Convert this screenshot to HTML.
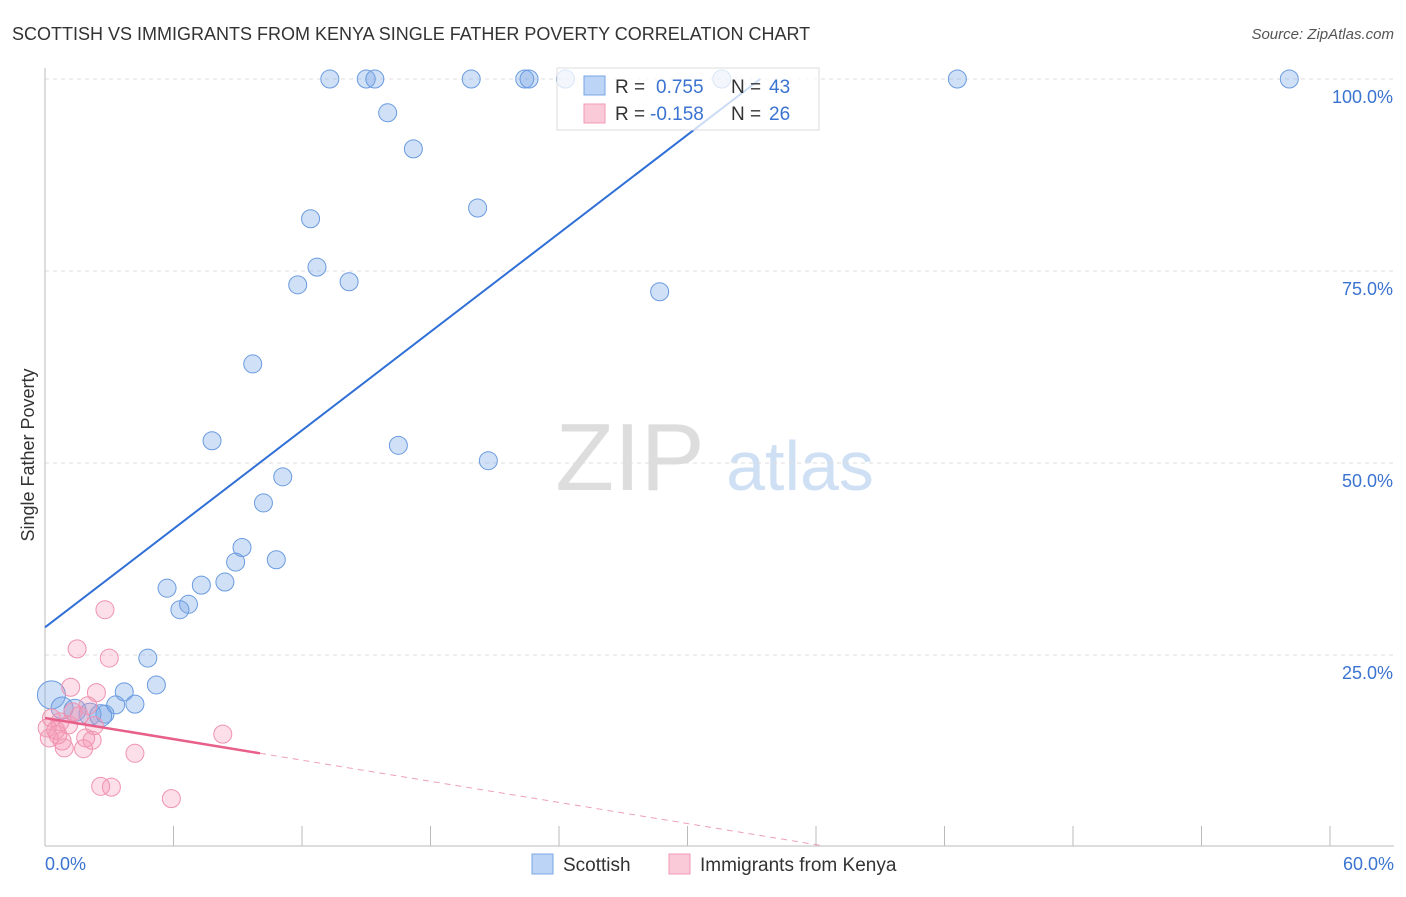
<!DOCTYPE html>
<html><head><meta charset="utf-8"><style>
body{margin:0;background:#fff;font-family:"Liberation Sans",sans-serif;}
svg text{font-family:"Liberation Sans",sans-serif;}
</style></head><body>
<svg id="c" width="1406" height="892" xmlns="http://www.w3.org/2000/svg">
<text x="12" y="40" font-size="18" fill="#333">SCOTTISH VS IMMIGRANTS FROM KENYA SINGLE FATHER POVERTY CORRELATION CHART</text>
<text x="1394" y="39" font-size="15" fill="#555" font-style="italic" text-anchor="end">Source: ZipAtlas.com</text>
<text x="630" y="490" font-size="96" fill="#ddd" font-family="Liberation Serif" text-anchor="middle">ZIP</text>
<text x="800" y="490" font-size="70" fill="#cfe0f5" text-anchor="middle">atlas</text>
<g id="grid"></g>
<g id="pts"></g>
<g id="lines"></g>
<g>
<rect x="557" y="68" width="262" height="62" fill="#fff" fill-opacity="0.75" stroke="#ddd"/>
<rect x="584" y="76" width="21" height="19" fill="#bcd4f5" stroke="#7aa6e6"/>
<rect x="584" y="104" width="21" height="19" fill="#fbcad8" stroke="#f09ab4"/>
<text x="615" y="93" font-size="19" fill="#333">R = </text><text x="656" y="93" font-size="19" fill="#3b73d0">0.755</text>
<text x="731" y="93" font-size="19" fill="#333">N = </text><text x="769" y="93" font-size="19" fill="#3b73d0">43</text>
<text x="615" y="120" font-size="19" fill="#333">R = </text><text x="650" y="120" font-size="19" fill="#3b73d0">-0.158</text>
<text x="731" y="120" font-size="19" fill="#333">N = </text><text x="769" y="120" font-size="19" fill="#3b73d0">26</text>
</g>
<text transform="translate(34,455) rotate(-90)" font-size="18" fill="#333" text-anchor="middle">Single Father Poverty</text>
<text x="45" y="870" font-size="18" fill="#3b73d0">0.0%</text>
<text x="1394" y="870" font-size="18" fill="#3b73d0" text-anchor="end">60.0%</text>
<g>
<rect x="532" y="854" width="21" height="20" fill="#bcd4f5" stroke="#7aa6e6"/>
<text x="563" y="871" font-size="19" fill="#333">Scottish</text>
<rect x="669" y="854" width="21" height="20" fill="#fbcad8" stroke="#f09ab4"/>
<text x="700" y="871" font-size="19" fill="#333">Immigrants from Kenya</text>
</g>
</svg>
<script>
const blueX=[13.3,15.0,15.4,19.9,22.4,22.6,24.3,31.6,42.6,58.1,16.0,17.2,12.4,20.2,12.7,11.8,14.2,28.7,9.7,7.8,16.5,20.7,11.1,10.2,9.2,8.9,10.8,5.7,7.3,8.4,6.7,6.3,4.8,5.2,3.7,4.2,3.3,2.8,0.3,0.8,1.4,2.1,2.6];
const blueY=[100,100,100,100,100,100,100,100,100,100,95.6,90.9,81.8,83.2,75.5,73.2,73.6,72.3,62.9,52.9,52.3,50.3,48.2,44.8,39.0,37.1,37.4,33.7,34.1,34.5,31.6,30.9,24.6,21.1,20.2,18.6,18.5,17.3,19.8,18.1,17.8,17.3,17.1];
const pinkX=[2.8,1.5,3.0,1.2,2.4,2.0,1.3,0.3,0.7,1.1,2.3,0.5,1.9,2.2,0.2,0.9,1.8,8.3,4.2,2.6,3.1,5.9,0.6,1.6,0.8,0.1];
const pinkY=[30.9,25.8,24.6,20.8,20.1,18.4,17.6,16.8,16.3,15.9,15.8,15.2,14.2,13.9,14.2,12.9,12.8,14.7,12.2,7.9,7.8,6.3,14.6,17.1,13.8,15.5];
const yTicks=[25,50,75,100];
const xTicks=[0,6,12,18,24,30,36,42,48,54,60];
const blueFit=[28.6,100,33.4];
const pinkFit=[16.8,12.2,10.04,0.2];
const NS='http://www.w3.org/2000/svg';
const sx=v=>45+v*1285/60, sy=v=>847-v*7.68;
function mk(t,a,p){const e=document.createElementNS(NS,t);for(const k in a)e.setAttribute(k,a[k]);p.appendChild(e);return e;}
const g=document.getElementById('grid');
yTicks.forEach(t=>{
 const l=mk('line',{x1:45,x2:1394,y1:sy(t),y2:sy(t),stroke:'#ddd','stroke-dasharray':'4,4'},g);
 
 
 const tx=mk('text',{x:1393,y:sy(t)+24,'font-size':18,fill:'#3b73d0','text-anchor':'end'},g);
 tx.textContent=t.toFixed(1)+'%';
 
 
});
mk('line',{x1:45,x2:45,y1:68,y2:846,stroke:'#bbb'},g);
mk('line',{x1:45,x2:1394,y1:846,y2:846,stroke:'#bbb'},g);
xTicks.forEach(t=>{
 const l=mk('line',{x1:sx(t),x2:sx(t),y1:826,y2:846,stroke:'#bbb'},g);
 
 
});
const p=document.getElementById('pts');
blueX.forEach((x,i)=>{
 const r=i==38?14:(i>=39?11:9);
 const c=mk('circle',{cx:sx(x),cy:sy(blueY[i]),r:r,fill:'rgba(120,165,230,0.35)',stroke:'#6a9be0','stroke-width':1},p);
 
 
});
pinkX.forEach((x,i)=>{
 const c=mk('circle',{cx:sx(x),cy:sy(pinkY[i]),r:9,fill:'rgba(245,150,180,0.3)',stroke:'#f093b0','stroke-width':1},p);
 
 
});
const L=document.getElementById('lines');
const bl=mk('line',{x1:sx(0),y1:sy(blueFit[0]),x2:sx(blueFit[2]),y2:sy(blueFit[1]),stroke:'#2f6fd6','stroke-width':2},L);


const slope=(pinkFit[1]-pinkFit[0])/pinkFit[2];
const pl=mk('line',{x1:sx(0),y1:sy(pinkFit[0]),x2:sx(pinkFit[2]),y2:sy(pinkFit[1]),stroke:'#e8608a','stroke-width':2.5},L);


const xe=(pinkFit[3]-pinkFit[0])/slope;
const pd=mk('line',{x1:sx(pinkFit[2]),y1:sy(pinkFit[1]),x2:sx(xe),y2:sy(pinkFit[3]),stroke:'#eea0b8','stroke-width':1,'stroke-dasharray':'6,5'},L);


</script>
</body></html>
